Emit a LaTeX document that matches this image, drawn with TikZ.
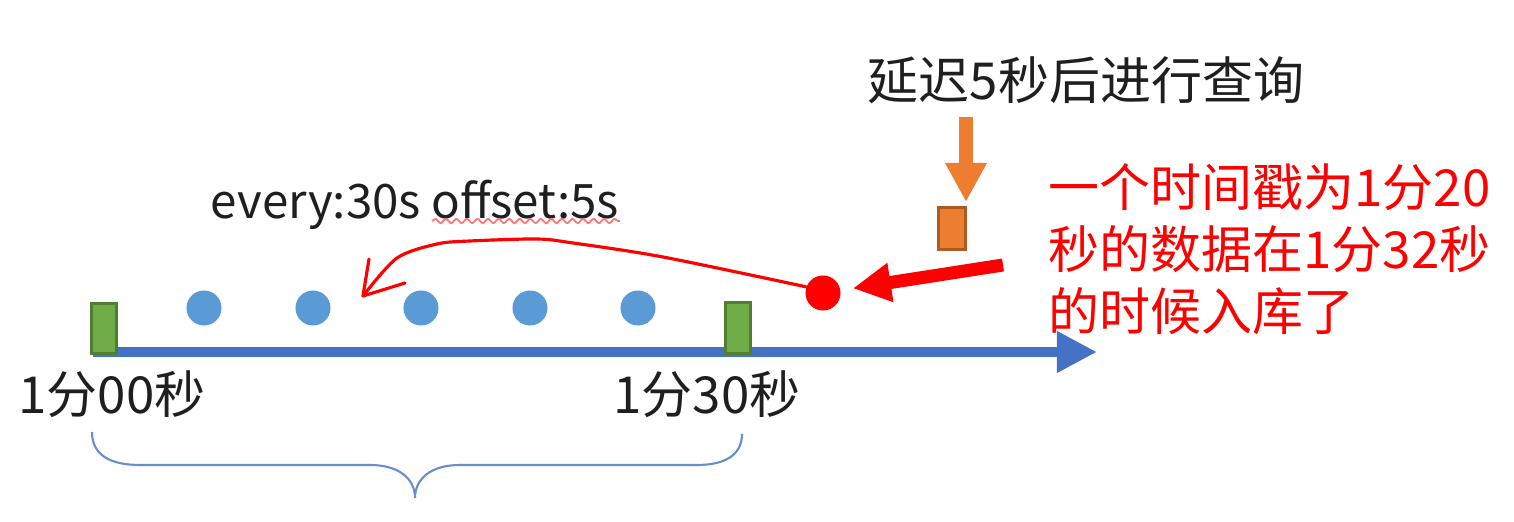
\documentclass[tikz,border=0pt]{standalone}
\usepackage{fontspec}
\setmainfont{Noto Sans CJK SC}
\usetikzlibrary{arrows.meta,decorations.pathmorphing}
\definecolor{axisblue}{HTML}{4472C4}
\definecolor{dotblue}{HTML}{5B9BD5}
\definecolor{slotgreen}{HTML}{70AD47}
\definecolor{slotedge}{HTML}{507E32}
\definecolor{qorange}{HTML}{ED7D31}
\definecolor{qedge}{HTML}{AE5A21}
\definecolor{txt}{HTML}{1F1F1F}
\tikzset{
  slotbox/.style={draw=slotedge, fill=slotgreen, line width=0.85pt, inner sep=0pt,
    minimum width=0.25cm, minimum height=0.5cm},
  pdot/.style={circle, fill=dotblue, inner sep=0pt, minimum size=0.35cm},
  lbl/.style={text=txt, inner sep=0pt}
}
\begin{document}
\begin{tikzpicture}[x=0.01cm, y=-0.01cm, font=\fontsize{14.5}{17.6}\selectfont]
  \useasboundingbox (0,0) rectangle (1514,522);

  % osa
  \coordinate (axstart) at (93,352);
  \coordinate (axend) at (1097,352);
  \draw[axisblue, line width=3.1pt, -{Triangle[length=0.4cm, width=0.39cm]}] (axstart) -- (axend);

  % okna
  \node[slotbox] (g0) at (104,328.5) {};
  \node[slotbox] (g30) at (738,328) {};
  \node[lbl] (t0) at (112,394) {1分00秒};
  \node[lbl] (t30) at (707,394) {1分30秒};

  % body
  \foreach \x [count=\i] in {204,313,421,530,638}
    \node[pdot] (d\i) at (\x,308) {};
  \node[circle, fill=red, inner sep=0pt, minimum size=0.35cm] (rdot) at (823,293) {};

  % dotaz
  \node[lbl] (delay) at (1086,80) {延迟5秒后进行查询};
  \node[draw=qedge, fill=qorange, line width=0.85pt, inner sep=0pt,
    minimum width=0.27cm, minimum height=0.42cm] (qbox) at (952,228.5) {};
  \coordinate (qtail) at (966,117);
  \draw[qorange, line width=4pt, -{Triangle[length=0.39cm, width=0.39cm]},
    shorten >=0.04cm] (qtail) -- (qtail |- qbox.north);

  % popisek
  \node[lbl, text=red, align=left, anchor=north west] (note) at (1048,163)
    {一个时间戳为1分20\\秒的数据在1分32秒\\的时候入库了};
  \coordinate (redtail) at (1003,265);
  \draw[red, line width=3.7pt, -{Triangle[length=0.38cm, width=0.37cm]},
    shorten >=0.12cm] (redtail) -- (rdot);

  % ručně kreslená šipka
  \node[lbl, font=\fontsize{13.5}{16}\selectfont] (every) at (415,205) {every:30s offset:5s};
  \draw[red!55, line width=0.5pt, decorate,
    decoration={snake, amplitude=0.6pt, segment length=3pt}] (432,221) -- (620,221);
  \coordinate (curvetip) at (363,296);
  \draw[red, line width=0.9pt, line cap=round, line join=round]
    plot[smooth] coordinates {(rdot.160) (663,257) (573,243) (537,239) (470,241) (437,244) (397,258) (curvetip)};
  \draw[red, line width=0.9pt, line cap=round, line join=round]
    (369,259) -- (curvetip) -- (405,283);

  % závorka
  \draw[axisblue!80, line width=0.6pt]
    (92,432) .. controls (92,455) and (110,465) .. (140,465) -- (370,465)
    .. controls (398,465) and (415,478) .. (415,498)
    .. controls (415,478) and (432,465) .. (460,465) -- (697,465)
    .. controls (725,465) and (742,455) .. (742,434);
\end{tikzpicture}
\end{document}
